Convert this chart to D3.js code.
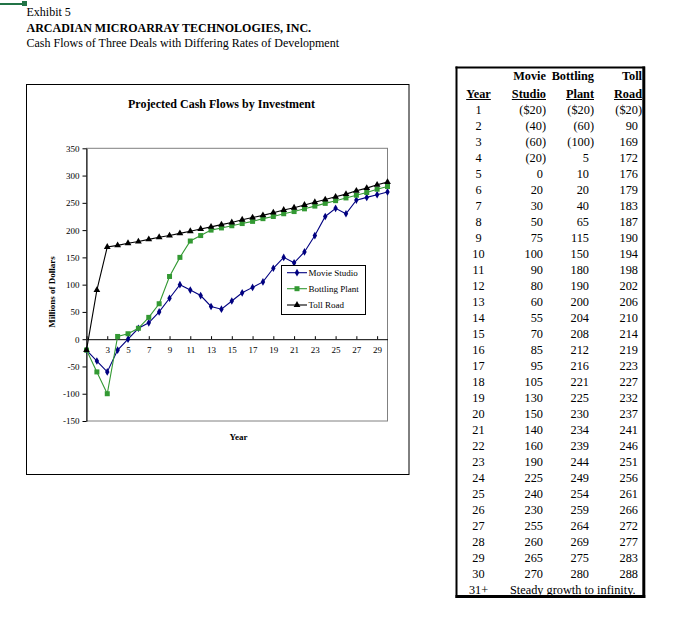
<!DOCTYPE html>
<html><head><meta charset="utf-8">
<script src="https://cdn.jsdelivr.net/npm/d3@7"></script>
<style>
body{margin:0;background:#fff}
svg{display:block}
text{font-family:"Liberation Serif","Times New Roman",serif;fill:#000}
</style>
</head><body><svg id="c" width="694" height="625"></svg>
<script>
const years = [1,2,3,4,5,6,7,8,9,10,11,12,13,14,15,16,17,18,19,20,21,22,23,24,25,26,27,28,29,30];
const movieStudio = [-20,-40,-60,-20,0,20,30,50,75,100,90,80,60,55,70,85,95,105,130,150,140,160,190,225,240,230,255,260,265,270];
const bottlingPlant = [-20,-60,-100,5,10,20,40,65,115,150,180,190,200,204,208,212,216,221,225,230,234,239,244,249,254,259,264,269,275,280];
const tollRoad = [-20,90,169,172,176,179,183,187,190,194,198,202,206,210,214,219,223,227,232,237,241,246,251,256,261,266,272,277,283,288];
const yTicks = [-150,-100,-50,0,50,100,150,200,250,300,350];
const xTickLabels = [1,3,5,7,9,11,13,15,17,19,21,23,25,27,29];
const seriesNames = ["Movie Studio","Bottling Plant","Toll Road"];
const seriesColors = ["#000080","#339933","#000000"];
const seriesSymbols = [d3.symbolDiamond, d3.symbolSquare, d3.symbolTriangle];
const symbolSizes = [17, 25, 20];
const lastRowLabel = "31+";
const lastRowText = "Steady growth to infinity.";

const svg = d3.select("#c");
const serif = '"Liberation Serif","Times New Roman",serif';

// cell selection artifact
svg.append("line").attr("x1",0).attr("x2",23).attr("y1",4).attr("y2",4).attr("stroke","#217346").attr("stroke-width",2);
svg.append("rect").attr("x",22).attr("y",1).attr("width",5).attr("height",5).attr("fill","#217346");

// headings
svg.append("text").attr("x",26.5).attr("y",16).attr("font-size",12).text("Exhibit 5");
svg.append("text").attr("x",26.5).attr("y",32).attr("font-size",12).attr("font-weight","bold").text("ARCADIAN MICROARRAY TECHNOLOGIES, INC.");
svg.append("text").attr("x",26.5).attr("y",47).attr("font-size",12).text("Cash Flows of Three Deals with Differing Rates of Development");

// chart area
svg.append("rect").attr("x",26.5).attr("y",84.5).attr("width",382.5).attr("height",390)
  .attr("fill","#fff").attr("stroke","#000").attr("stroke-width",1);
svg.append("text").attr("x",221.5).attr("y",107.5).attr("text-anchor","middle")
  .attr("font-size",12).attr("font-weight","bold").text("Projected Cash Flows by Investment");

const x = d3.scalePoint().domain(years).range([86.5,387.5]);
const y = d3.scaleLinear().domain([-150,350]).range([421,148.3]);

svg.append("rect").attr("x",86.5).attr("y",y(350)).attr("width",301).attr("height",y(-150)-y(350))
  .attr("fill","none").attr("stroke","#808080").attr("stroke-width",1);

const yAxis = svg.append("g").attr("transform","translate(86.5,0)")
  .call(d3.axisLeft(y).tickValues(yTicks).tickFormat(d=>String(d)).tickSizeInner(4).tickSizeOuter(0).tickPadding(3));
yAxis.selectAll("text").attr("font-family",serif).attr("font-size",9).attr("fill","#000");
yAxis.selectAll("line,path").attr("stroke","#000");

const xAxis = svg.append("g").attr("transform",`translate(0,${y(0)})`)
  .call(d3.axisBottom(x).tickValues(xTickLabels).tickFormat(d=>String(d)).tickSizeInner(-3).tickSizeOuter(0).tickPadding(7));
xAxis.selectAll("text").attr("font-family",serif).attr("font-size",9).attr("fill","#000");
xAxis.selectAll("line,path").attr("stroke","#000");

svg.append("text").attr("transform","translate(55,292) rotate(-90)").attr("text-anchor","middle")
  .attr("font-size",9).attr("font-weight","bold").text("Millions of Dollars");
svg.append("text").attr("x",238.5).attr("y",440).attr("text-anchor","middle")
  .attr("font-size",9).attr("font-weight","bold").text("Year");

const allSeries = [movieStudio, bottlingPlant, tollRoad];
const line = d3.line().x(d=>x(d[0])).y(d=>y(d[1]));
allSeries.forEach((vals,i)=>{
  const pts = years.map((yr,j)=>[yr, vals[j]]);
  svg.append("path").attr("d",line(pts)).attr("fill","none").attr("stroke",seriesColors[i]).attr("stroke-width",1.1);
  svg.append("g").selectAll("path").data(pts).join("path")
    .attr("transform",d=>`translate(${x(d[0])},${y(d[1])})`)
    .attr("d",d3.symbol(seriesSymbols[i], symbolSizes[i])())
    .attr("fill",seriesColors[i]);
});

// legend
svg.append("rect").attr("x",281.5).attr("y",265.5).attr("width",84).attr("height",49)
  .attr("fill","#fff").attr("stroke","#000");
const legY = [272.7, 288.7, 305];
seriesNames.forEach((n,i)=>{
  svg.append("line").attr("x1",287).attr("x2",307).attr("y1",legY[i]).attr("y2",legY[i]).attr("stroke",seriesColors[i]).attr("stroke-width",1.1);
  svg.append("path").attr("transform",`translate(297,${legY[i]})`).attr("d",d3.symbol(seriesSymbols[i],symbolSizes[i])()).attr("fill",seriesColors[i]);
  svg.append("text").attr("x",308.5).attr("y",legY[i]+3.2).attr("font-size",9).text(n);
});

// table
const T = svg.append("g");
T.append("line").attr("x1",455.5).attr("x2",645).attr("y1",67.5).attr("y2",67.5).attr("stroke","#000").attr("stroke-width",2);
T.append("line").attr("x1",456.5).attr("x2",456.5).attr("y1",66.5).attr("y2",598).attr("stroke","#000").attr("stroke-width",2);
T.append("line").attr("x1",643.8).attr("x2",643.8).attr("y1",66.5).attr("y2",598).attr("stroke","#000").attr("stroke-width",3);
T.append("line").attr("x1",455.5).attr("x2",645.3).attr("y1",596.5).attr("y2",596.5).attr("stroke","#000").attr("stroke-width",3);

const fs = 12.3;
const colRight = [546, 594, 642];
const colPosRight = [543, 589, 638];
const head1 = ["Movie","Bottling","Toll"];
const head2 = ["Studio","Plant","Road"];
head1.forEach((h,i)=>T.append("text").attr("x",colRight[i]).attr("y",80).attr("text-anchor","end")
  .attr("font-size",fs).attr("font-weight","bold").text(h));
function underlined(txt, xx, anchor){
  const t = T.append("text").attr("x",xx).attr("y",97.5).attr("text-anchor",anchor)
    .attr("font-size",fs).attr("font-weight","bold").text(txt);
  const w = t.node().getComputedTextLength();
  const x0 = anchor==="end" ? xx-w : (anchor==="middle" ? xx-w/2 : xx);
  T.append("line").attr("x1",x0).attr("x2",x0+w).attr("y1",99.5).attr("y2",99.5).attr("stroke","#000").attr("stroke-width",1);
}
underlined("Year",478.5,"middle");
head2.forEach((h,i)=>underlined(h,colRight[i],"end"));

function fmt(v, rowIdx){
  if (v < 0) return rowIdx===0 ? `($${-v})` : `(${-v})`;
  return String(v);
}
years.forEach((yr,j)=>{
  const by = 113.5 + j*16;
  T.append("text").attr("x",478.5).attr("y",by).attr("text-anchor","middle").attr("font-size",fs).text(yr);
  allSeries.forEach((vals,i)=>{
    const v = vals[j];
    T.append("text").attr("x", v<0 ? colRight[i] : colPosRight[i]).attr("y",by).attr("text-anchor","end")
      .attr("font-size",fs).text(fmt(v,j));
  });
});
T.append("text").attr("x",478.5).attr("y",593.5).attr("text-anchor","middle").attr("font-size",fs).text(lastRowLabel);
T.append("text").attr("x",510).attr("y",593.5).attr("font-size",fs).text(lastRowText);
</script>
</body></html>
